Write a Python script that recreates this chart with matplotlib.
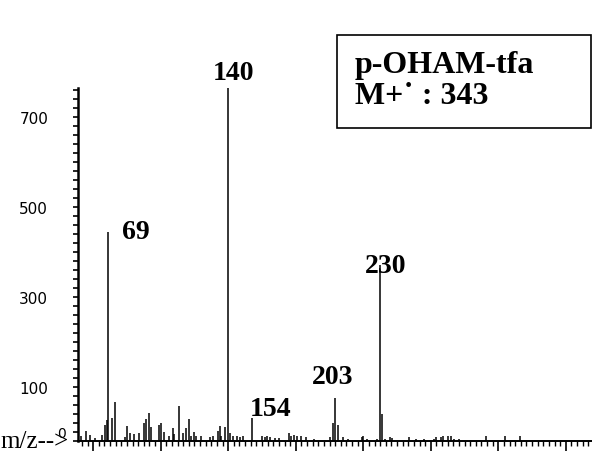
import matplotlib
matplotlib.use('Agg')
import numpy as np
import matplotlib.pyplot as plt
import matplotlib.transforms as mtransforms
from matplotlib.ticker import MultipleLocator, FixedLocator
from matplotlib.patches import Rectangle

# EI spectrum of p-OHAM-tfa: m/z and abundance
mz = [53, 56, 58, 61, 65, 67, 68, 69, 71, 73, 79, 80, 82, 84, 87, 90, 91, 93,
      94, 99, 100, 102, 105, 107, 108, 111, 113, 115, 117, 118, 120, 121, 124,
      129, 131, 134, 135, 136, 138, 140, 141, 143, 145, 147, 149, 154, 160,
      162, 163, 165, 168, 170, 176, 177, 179, 181, 183, 186, 191, 200, 202,
      203, 205, 208, 211, 219, 220, 222, 228, 230, 231, 233, 236, 237, 247,
      251, 256, 262, 263, 266, 267, 270, 272, 274, 277, 293, 304, 313]
abundance = [11, 22, 13, 7, 13, 35, 47, 464, 51, 87, 8, 33, 18, 15, 18, 40, 49,
             62, 30, 35, 40, 20, 10, 29, 15, 78, 18, 28, 49, 10, 20, 10, 12,
             8, 12, 22, 33, 12, 32, 784, 18, 10, 10, 8, 10, 52, 10,
             8, 10, 8, 6, 6, 18, 12, 13, 10, 10, 8, 5, 8, 40,
             96, 35, 8, 5, 8, 10, 5, 5, 391, 60, 5, 8, 6, 8,
             5, 5, 5, 8, 8, 10, 10, 12, 5, 5, 10, 10, 10]

yticks = [100, 300, 500, 700]

# where each labelled peak gets its number (x centre, baseline)
label_pos = {69: (85, 449), 140: (143, 802), 154: (165, 56),
             203: (202, 127), 230: (233, 373)}

fig = plt.figure(figsize=(5.92, 4.54), dpi=100)
ax = fig.add_axes([78 / 592, 13 / 454, 514 / 592, 353 / 454])

ax.vlines(mz, 0, abundance, color='black', linewidth=1.1)

ax.set_xlim(51, 355.5)
ax.set_ylim(0, 784)

for side in ['top', 'right']:
    ax.spines[side].set_visible(False)
ax.spines['left'].set_linewidth(1.8)
ax.spines['bottom'].set_linewidth(1.4)

# x axis: small ticks plus longer ones every 40 units, no labels
ax.xaxis.set_major_locator(FixedLocator(np.arange(60, 356, 40)))
ax.xaxis.set_minor_locator(MultipleLocator(40 / 12))
ax.tick_params(axis='x', which='major', direction='out', length=7, width=1.2,
               labelbottom=False)
ax.tick_params(axis='x', which='minor', direction='out', length=3.5, width=1.0)

# y axis: ticks every 20, labels every 200
ax.yaxis.set_major_locator(FixedLocator(yticks))
ax.yaxis.set_minor_locator(MultipleLocator(20))
ax.tick_params(axis='y', which='both', direction='out', length=3.5, width=1.2,
               pad=18, labelsize=11)
ax.set_yticklabels([str(v) for v in yticks])
shift = mtransforms.ScaledTranslation(0, 8 / 100, fig.dpi_scale_trans)
for lab in ax.get_yticklabels():
    lab.set_transform(lab.get_transform() + shift)

# peak labels
for m, a in zip(mz, abundance):
    if m in label_pos:
        tx, ty = label_pos[m]
        ax.text(tx, ty, str(m), ha='center', va='baseline', fontsize=20,
                fontweight='bold', family='Liberation Serif', clip_on=False)

fig.text(0.0, 6 / 454, 'm/z-->', ha='left', va='baseline', fontsize=18,
         family='Liberation Serif')
fig.text(62 / 592, 16 / 454, '0', ha='center', va='baseline', fontsize=10)

# compound box
fig.patches.append(Rectangle((337 / 592, 326 / 454), 254 / 592, 93 / 454,
                             transform=fig.transFigure, fill=False,
                             edgecolor='black', linewidth=1.2))
fig.text(355 / 592, 389 / 454, 'p-OHAM-tfa', ha='left', va='center', fontsize=23,
         fontweight='bold', family='Liberation Serif')
fig.text(355 / 592, 357 / 454, 'M+\u02d9 : 343', ha='left', va='center', fontsize=23,
         fontweight='bold', family='Liberation Serif')

fig.savefig('out.png', dpi=100)
